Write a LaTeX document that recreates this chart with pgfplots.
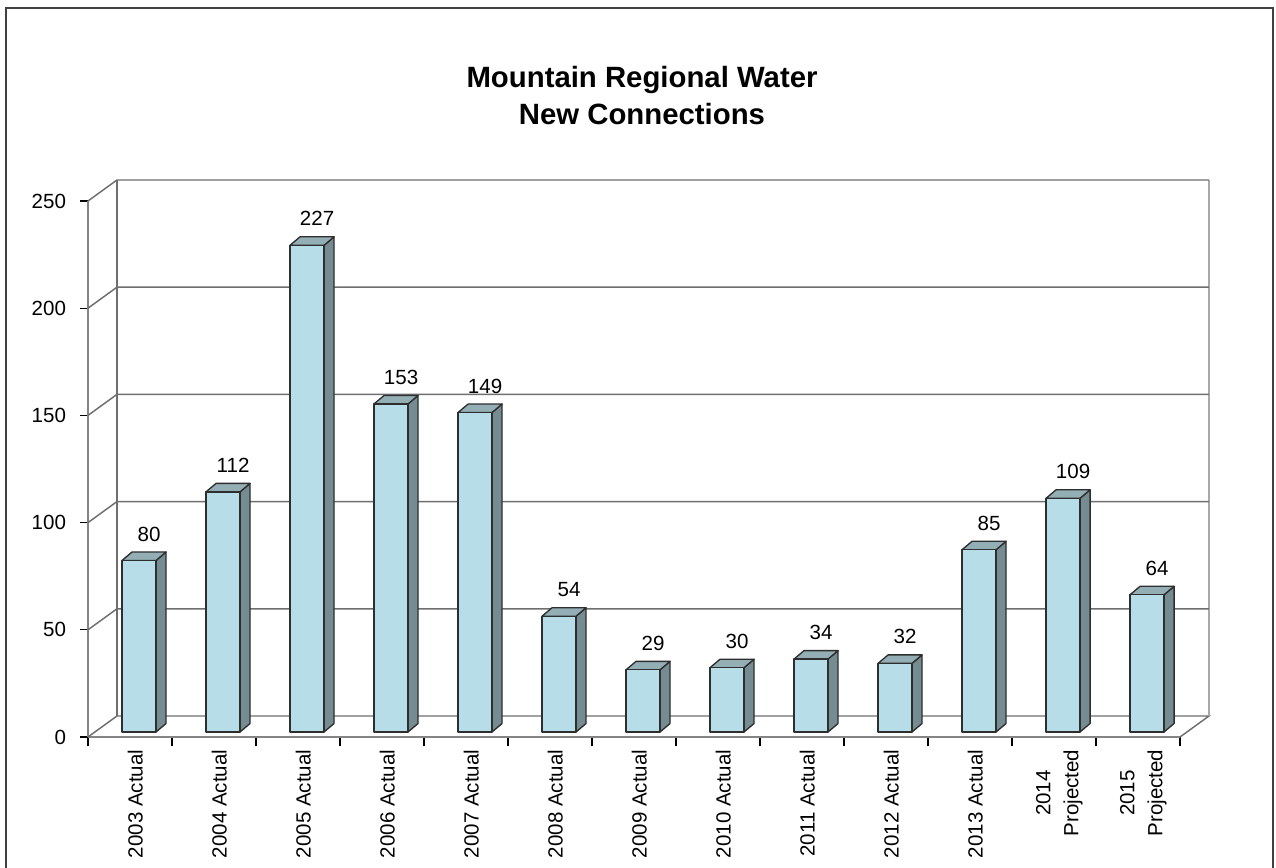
\documentclass[border=0pt]{standalone}
\usepackage{fontspec}
\setmainfont{Liberation Sans}
\usepackage{pgfplots}
\pgfplotsset{compat=1.18}
\usepackage{pgfplotstable}

\definecolor{barfront}{HTML}{B7DEE8}
\definecolor{barside}{HTML}{758C92}
\definecolor{bartop}{HTML}{93AEB5}
\definecolor{barline}{HTML}{2E2E2E}
\definecolor{gridc}{HTML}{6E6E6E}

\pgfplotstableread{
x v
0 80
1 112
2 227
3 153
4 149
5 54
6 29
7 30
8 34
9 32
10 85
11 109
12 64
}\data

\begin{document}
\begin{tikzpicture}
\useasboundingbox (0pt,0pt) rectangle (957pt,650.25pt);
\draw[black!75, line width=1.6pt] (4.5pt,-8pt) -- (4.5pt,644.25pt) -- (954.75pt,644.25pt) -- (954.75pt,-8pt);
\node[anchor=base, font=\bfseries\fontsize{22}{26}\selectfont] at (481.5pt,584.25pt) {Mountain Regional Water};
\node[anchor=base, font=\bfseries\fontsize{22}{26}\selectfont] at (481.5pt,556.5pt) {New Connections};
\begin{axis}[
  at={(66pt,97.5pt)}, anchor=south west,
  scale only axis, width=819pt, height=402pt,
  xmin=-0.5, xmax=12.5, ymin=0, ymax=250,
  clip=false,
  axis lines*=left,
  axis line style={-, draw=gridc!85, line width=1.1pt},
  /pgf/number format/assume math mode=true,
  ytick={0,50,...,250},
  xtick={0,...,12},
  xticklabels={2003 Actual,2004 Actual,2005 Actual,2006 Actual,2007 Actual,2008 Actual,2009 Actual,2010 Actual,2011 Actual,2012 Actual,2013 Actual,{2014\\Projected},{2015\\Projected}},
  minor xtick={-0.5,0.5,...,12.5},
  tick align=outside,
  major tick length=6pt, minor tick length=7pt,
  major x tick style={draw=none},
  minor x tick style={draw=black, line width=0.9pt},
  major y tick style={draw=black, line width=0.9pt},
  xticklabel style={rotate=90, anchor=east, align=center, font=\fontsize{15.4}{21}\selectfont, yshift=-4pt},
  yticklabel style={font=\fontsize{15.4}{17}\selectfont, xshift=-7pt},
]
% walls and gridlines
\draw[gridc, line width=1.1pt] (axis cs:-0.5,0) -- (axis cs:-0.155,9.8) -- (axis cs:12.845,9.8) -- (axis cs:12.5,0);
\draw[gridc, line width=1.1pt] (axis cs:-0.155,9.8) -- (axis cs:-0.155,259.8);
\draw[gridc!60, line width=1.1pt] (axis cs:12.845,9.8) -- (axis cs:12.845,259.8);
\pgfplotsinvokeforeach{50,100,150,200,250}{
  \pgfmathsetmacro\yy{#1+9.8}
  \edef\tmp{\noexpand\draw[gridc, line width=1.1pt] (axis cs:-0.5,#1) -- (axis cs:-0.155,\yy) -- (axis cs:12.845,\yy);}
  \tmp
}
% bars
\pgfplotsinvokeforeach{0,...,12}{
  \pgfplotstablegetelem{#1}{v}\of\data
  \pgfmathsetmacro\xl{#1+0.107-0.2024}
  \pgfmathsetmacro\xr{#1+0.107+0.2024}
  \pgfmathsetmacro\xrb{\xr+0.12}
  \pgfmathsetmacro\xlb{\xl+0.12}
  \pgfmathsetmacro\yb{2.33}
  \pgfmathsetmacro\yt{2.33+\pgfplotsretval}
  \pgfmathsetmacro\ytb{\yt+3.96}
  \pgfmathsetmacro\ybb{2.33+3.96}
  \edef\tmp{%
    \noexpand\addplot[fill=barside, draw=barline, line width=1pt, line join=round] coordinates {(\xr,\yb) (\xrb,\ybb) (\xrb,\ytb) (\xr,\yt)} -- cycle;
    \noexpand\addplot[fill=bartop, draw=barline, line width=1pt, line join=round] coordinates {(\xl,\yt) (\xr,\yt) (\xrb,\ytb) (\xlb,\ytb)} -- cycle;
    \noexpand\addplot[fill=barfront, draw=barline, line width=1pt, line join=round] coordinates {(\xl,\yb) (\xr,\yb) (\xr,\yt) (\xl,\yt)} -- cycle;
  }
  \tmp
}
% value labels
\addplot[draw=none, mark=none, nodes near coords, point meta=explicit symbolic,
  nodes near coords style={anchor=center, font=\fontsize{15.4}{17}\selectfont}]
  table[x expr=\thisrow{x}+0.227, y expr=\thisrow{v}+14.7, meta=v] \data;
\end{axis}
\end{tikzpicture}
\end{document}
